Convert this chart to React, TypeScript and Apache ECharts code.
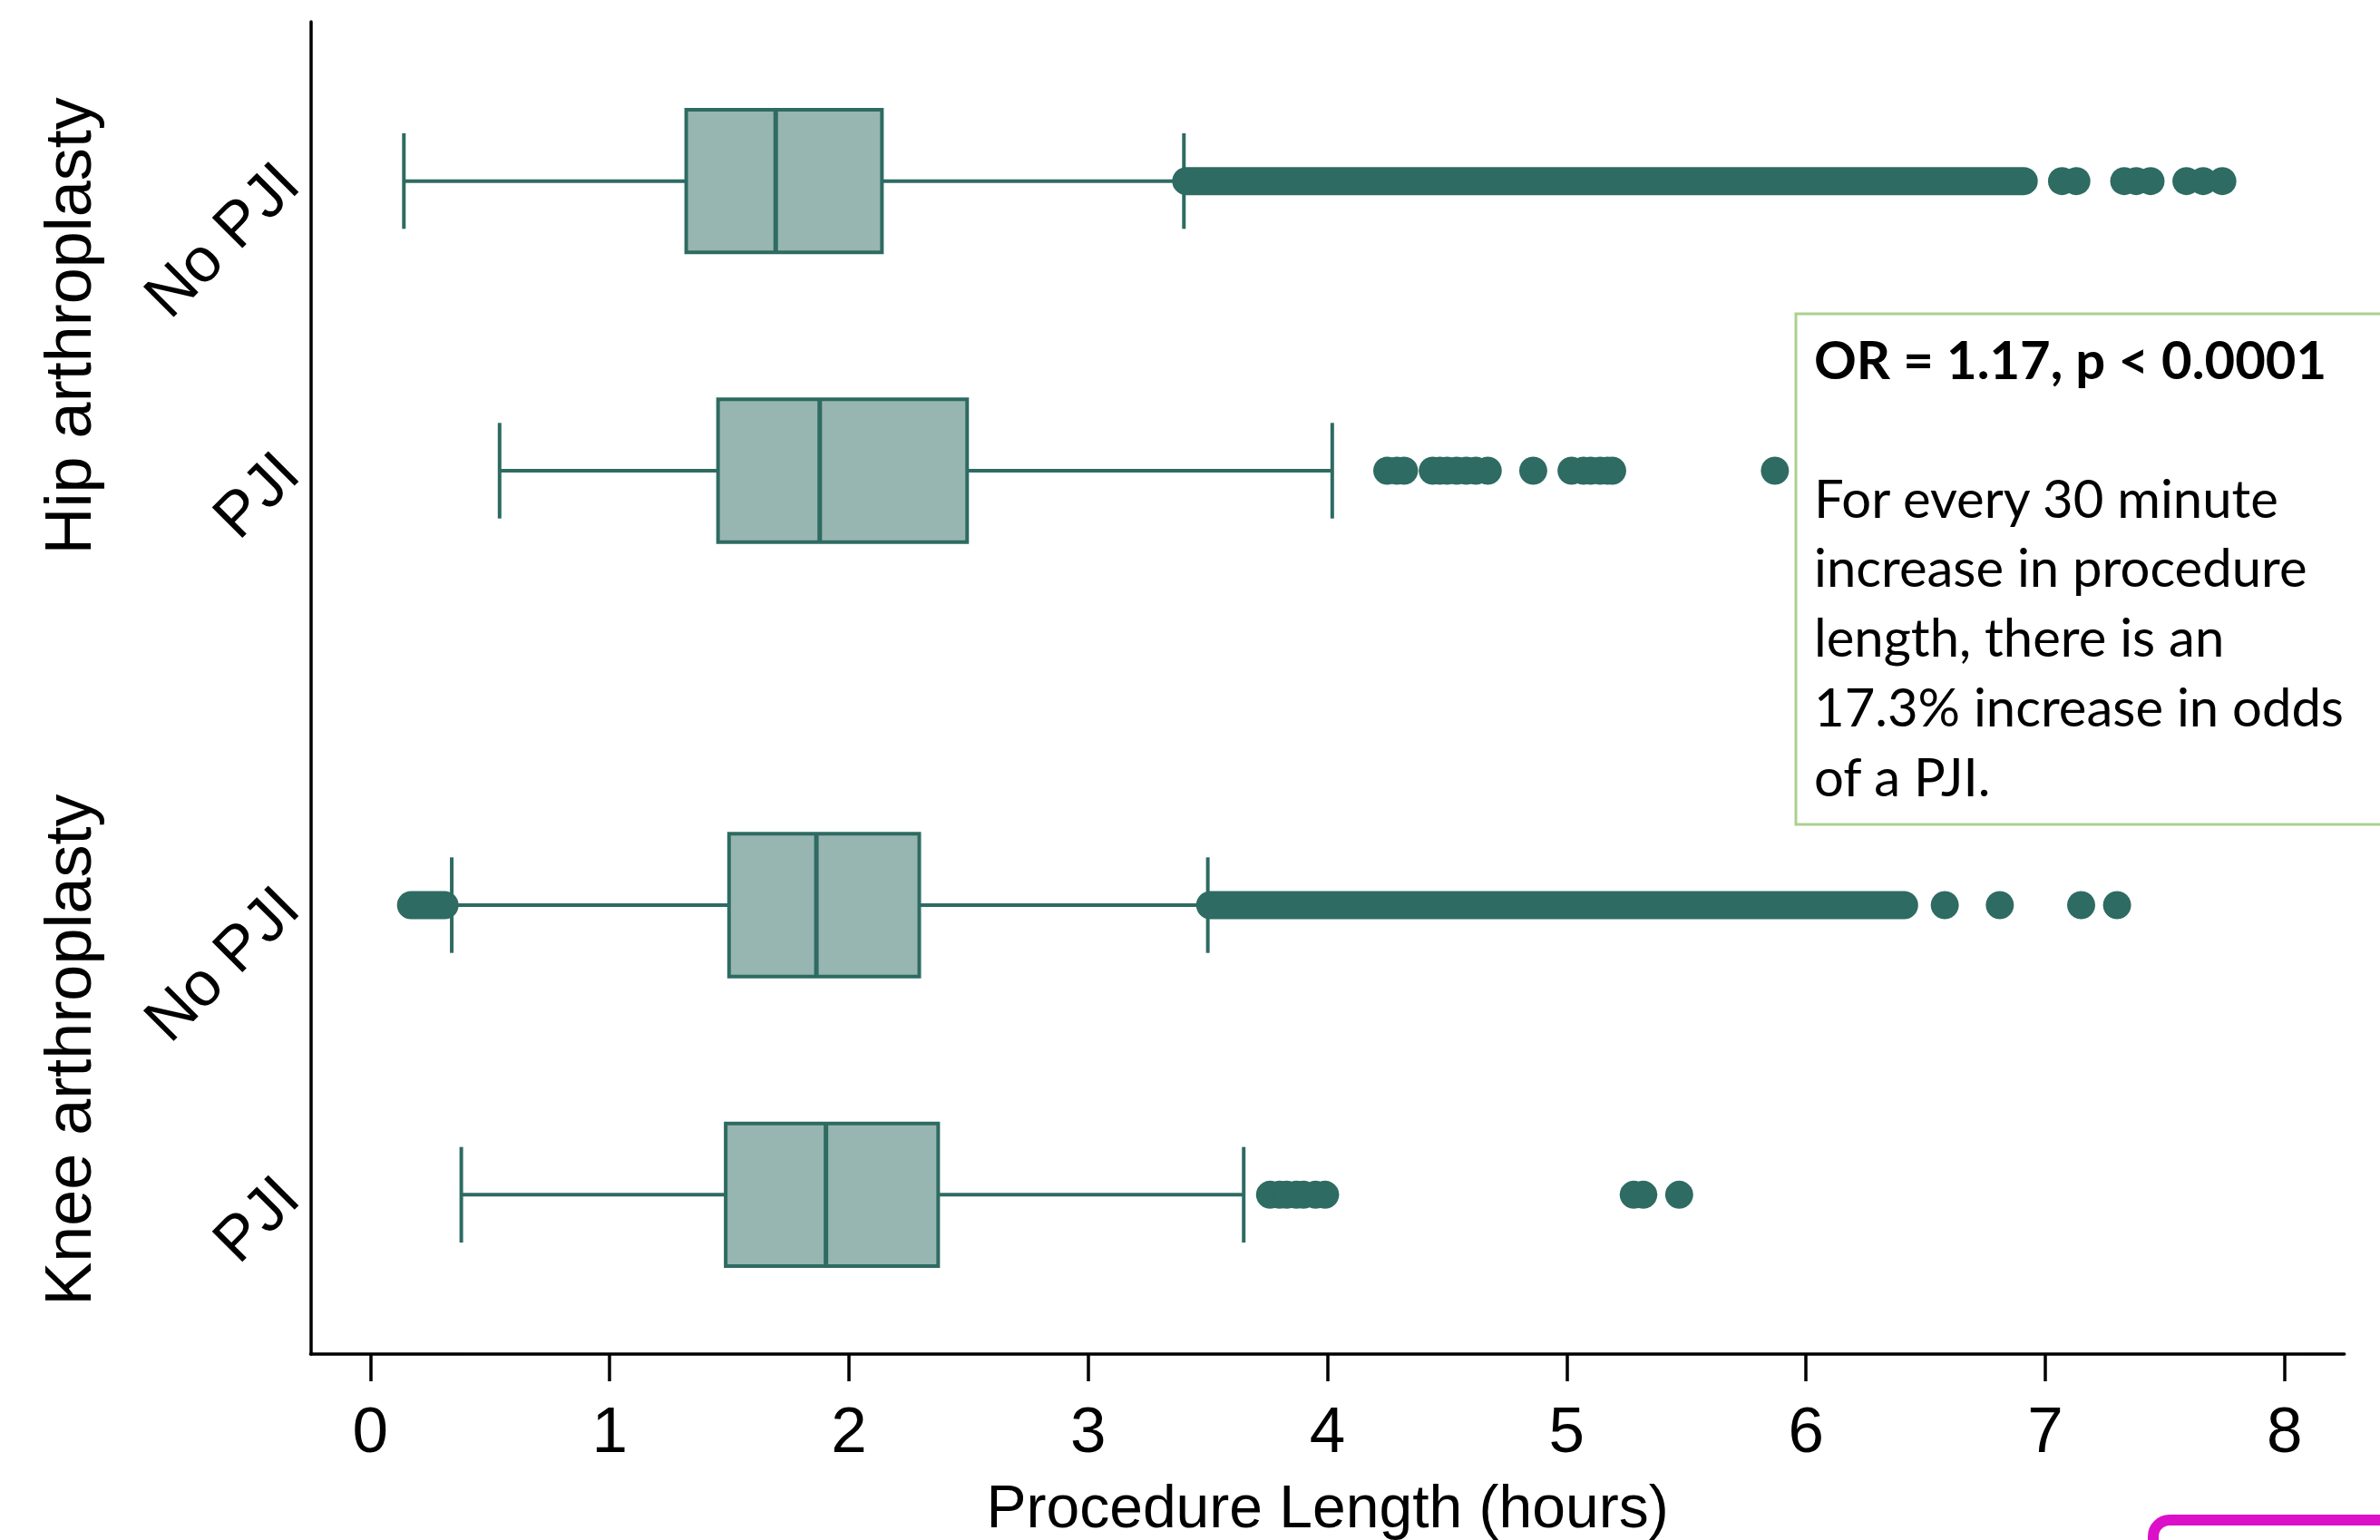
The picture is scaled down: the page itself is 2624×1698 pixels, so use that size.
import React, { useEffect, useRef } from "react";
import * as echarts from "echarts";

// ---------------- data ----------------
const groupLabels = ["Hip arthroplasty", "Knee arthroplasty"];
const groupRowIndex = [
  [0, 1],
  [2, 3],
];
const rowLabels = ["No PJI", "PJI", "No PJI", "PJI"];
const rowPositions = [0, 1, 2.5, 3.5];
const lowerWhisker = [0.14, 0.54, 0.34, 0.38];
const q1Values = [1.32, 1.453, 1.499, 1.485];
const medianValues = [1.694, 1.878, 1.864, 1.904];
const q3Values = [2.138, 2.494, 2.294, 2.373];
const upperWhisker = [3.4, 4.02, 3.5, 3.65];
// stretches where outliers overlap into a solid band: [row index, from, to]
const denseOutlierRuns = [
  [0, 3.41, 6.91],
  [2, 0.17, 0.31],
  [2, 3.51, 6.41],
];
const hipNoPjiOutliers = [7.07, 7.13, 7.33, 7.38, 7.44, 7.59, 7.66, 7.74];
const hipPjiOutliers = [
  4.25, 4.29, 4.32, 4.44, 4.47, 4.5, 4.54, 4.58, 4.62, 4.67, 4.86, 5.02, 5.07, 5.1, 5.14, 5.17, 5.19, 5.87,
];
const kneeNoPjiOutliers = [6.58, 6.81, 7.15, 7.3];
const kneePjiOutliers = [3.76, 3.8, 3.83, 3.87, 3.9, 3.95, 3.99, 5.28, 5.32, 5.47];
const outliersByRow = [hipNoPjiOutliers, hipPjiOutliers, kneeNoPjiOutliers, kneePjiOutliers];
const xTicks = [0, 1, 2, 3, 4, 5, 6, 7, 8];
const xTitle = "Procedure Length (hours)";
const noteTitle = "OR = 1.17, p < 0.0001";
const noteLines = [
  "For every 30 minute",
  "increase in procedure",
  "length, there is an",
  "17.3% increase in odds",
  "of a PJI.",
];

// ---------------- style ----------------
const DARK = "#2e6b62";
const FILL = "#97b5b1";
const FONT = '"Liberation Sans", Arial, Helvetica, sans-serif';
const NOTE_FONT = 'Lato, "Open Sans", sans-serif';
const BOX_HALF = 0.2465;
const CAP_HALF = 0.165;
const DOT = 31;

export default function App() {
  const ref = useRef<HTMLDivElement>(null);

  useEffect(() => {
    document.body.style.margin = "0";
    if (!ref.current) return;
    const chart = echarts.init(ref.current, undefined, { renderer: "svg" });

    const boxData = rowPositions.map((p, i) => [
      p,
      lowerWhisker[i],
      q1Values[i],
      medianValues[i],
      q3Values[i],
      upperWhisker[i],
    ]);
    const runData = denseOutlierRuns.map((r) => [rowPositions[r[0]], r[1], r[2]]);
    const scatterData: number[][] = [];
    outliersByRow.forEach((arr, i) => arr.forEach((v) => scatterData.push([v, rowPositions[i]])));

    const labelFor = (v: number) => {
      const i = rowPositions.findIndex((p) => Math.abs(p - v) < 1e-6);
      return i >= 0 ? rowLabels[i] : "";
    };

    const option: any = {
      animation: false,
      backgroundColor: "#ffffff",
      grid: {
        left: 342.4,
        right: 39.3,
        top: 24,
        bottom: 205,
        containLabel: false,
        outerBoundsMode: "none",
      },
      xAxis: {
        type: "value",
        min: -0.25,
        max: 8.25,
        position: "bottom",
        axisLine: { show: true, onZero: false, lineStyle: { color: "#000", width: 3.5 } },
        axisTick: {
          show: true,
          customValues: xTicks,
          length: 30,
          lineStyle: { color: "#000", width: 3.5 },
        },
        axisLabel: {
          show: true,
          customValues: xTicks,
          margin: 48,
          fontSize: 71,
          fontFamily: FONT,
          color: "#000",
        },
        splitLine: { show: false },
        name: xTitle,
        nameLocation: "middle",
        nameGap: 135,
        nameTextStyle: { fontSize: 66, fontFamily: FONT, color: "#000" },
      },
      yAxis: {
        type: "value",
        inverse: true,
        min: -0.55,
        max: 4.05,
        axisLine: { show: true, onZero: false, lineStyle: { color: "#000", width: 3.5 } },
        axisTick: { show: false },
        splitLine: { show: false },
        axisLabel: {
          show: true,
          customValues: rowPositions,
          formatter: (v: number) => labelFor(v),
          rotate: 45,
          margin: 16,
          verticalAlign: "bottom",
          lineHeight: 26,
          fontSize: 69,
          fontFamily: FONT,
          color: "#000",
        },
      },
      series: [
        {
          type: "custom",
          name: "box",
          data: boxData,
          encode: { x: [1, 2, 3, 4, 5], y: 0 },
          z: 2,
          renderItem: (params: any, api: any) => {
            const pos = api.value(0);
            const lo = api.coord([api.value(1), pos]);
            const a = api.coord([api.value(2), pos]);
            const m = api.coord([api.value(3), pos]);
            const b = api.coord([api.value(4), pos]);
            const hi = api.coord([api.value(5), pos]);
            const y = lo[1];
            const bh = Math.abs(api.size([0, BOX_HALF * 2])[1]);
            const ch = Math.abs(api.size([0, CAP_HALF * 2])[1]);
            const ls = { stroke: DARK, lineWidth: 4, fill: null };
            return {
              type: "group",
              children: [
                { type: "line", shape: { x1: lo[0], y1: y, x2: a[0], y2: y }, style: ls },
                { type: "line", shape: { x1: b[0], y1: y, x2: hi[0], y2: y }, style: ls },
                { type: "line", shape: { x1: lo[0], y1: y - ch / 2, x2: lo[0], y2: y + ch / 2 }, style: ls },
                { type: "line", shape: { x1: hi[0], y1: y - ch / 2, x2: hi[0], y2: y + ch / 2 }, style: ls },
                {
                  type: "rect",
                  shape: { x: a[0], y: y - bh / 2, width: b[0] - a[0], height: bh },
                  style: { fill: FILL, stroke: DARK, lineWidth: 4 },
                },
                {
                  type: "line",
                  shape: { x1: m[0], y1: y - bh / 2, x2: m[0], y2: y + bh / 2 },
                  style: { stroke: DARK, lineWidth: 5 },
                },
              ],
            };
          },
        },
        {
          type: "custom",
          name: "dense outliers",
          data: runData,
          encode: { x: [1, 2], y: 0 },
          z: 3,
          renderItem: (params: any, api: any) => {
            const pos = api.value(0);
            const s = api.coord([api.value(1), pos]);
            const e = api.coord([api.value(2), pos]);
            return {
              type: "rect",
              shape: {
                x: s[0] - DOT / 2,
                y: s[1] - DOT / 2,
                width: e[0] - s[0] + DOT,
                height: DOT,
                r: DOT / 2,
              },
              style: { fill: DARK },
            };
          },
        },
        {
          type: "scatter",
          name: "outliers",
          data: scatterData,
          symbol: "circle",
          symbolSize: DOT,
          itemStyle: { color: DARK, opacity: 1 },
          z: 4,
        },
      ],
    };
    chart.setOption(option);

    const graphics: any[] = [];
    groupLabels.forEach((g, gi) => {
      const rows = groupRowIndex[gi];
      const center = (rowPositions[rows[0]] + rowPositions[rows[rows.length - 1]]) / 2;
      const pt = chart.convertToPixel({ gridIndex: 0 }, [0, center]) as number[];
      graphics.push({
        type: "text",
        x: 75,
        y: pt[1],
        rotation: Math.PI / 2,
        style: {
          text: g,
          fontSize: 72,
          fontFamily: FONT,
          fill: "#000",
          align: "center",
          verticalAlign: "middle",
          textAlign: "center",
          textVerticalAlign: "middle",
        },
      });
    });

    graphics.push({
      type: "rect",
      z: 10,
      shape: { x: 1980, y: 346, width: 800, height: 563 },
      style: { fill: "#ffffff", stroke: "#a9d18e", lineWidth: 3 },
    });
    const noteX = 2000;
    const NFS = 58;
    graphics.push({
      type: "text",
      z: 11,
      x: noteX,
      y: 416 - 0.36 * NFS,
      style: {
        text: noteTitle,
        fontSize: NFS,
        fontWeight: "bold",
        fontFamily: NOTE_FONT,
        fill: "#000",
        align: "left",
        verticalAlign: "middle",
        textAlign: "left",
        textVerticalAlign: "middle",
      },
    });
    noteLines.forEach((t, i) => {
      graphics.push({
        type: "text",
        z: 11,
        x: noteX,
        y: 569 + i * 76.8 - 0.36 * NFS,
        style: {
          text: t,
          fontSize: NFS,
          fontFamily: NOTE_FONT,
          fill: "#000",
          align: "left",
          verticalAlign: "middle",
          textAlign: "left",
          textVerticalAlign: "middle",
        },
      });
    });
    graphics.push({
      type: "rect",
      z: 10,
      shape: { x: 2374, y: 1676, width: 600, height: 200, r: 18 },
      style: { fill: "none", stroke: "#dc10c8", lineWidth: 12 },
    });
    chart.setOption({ graphic: graphics });

    return () => chart.dispose();
  }, []);

  return <div ref={ref} style={{ width: 2624, height: 1698 }} />;
}
